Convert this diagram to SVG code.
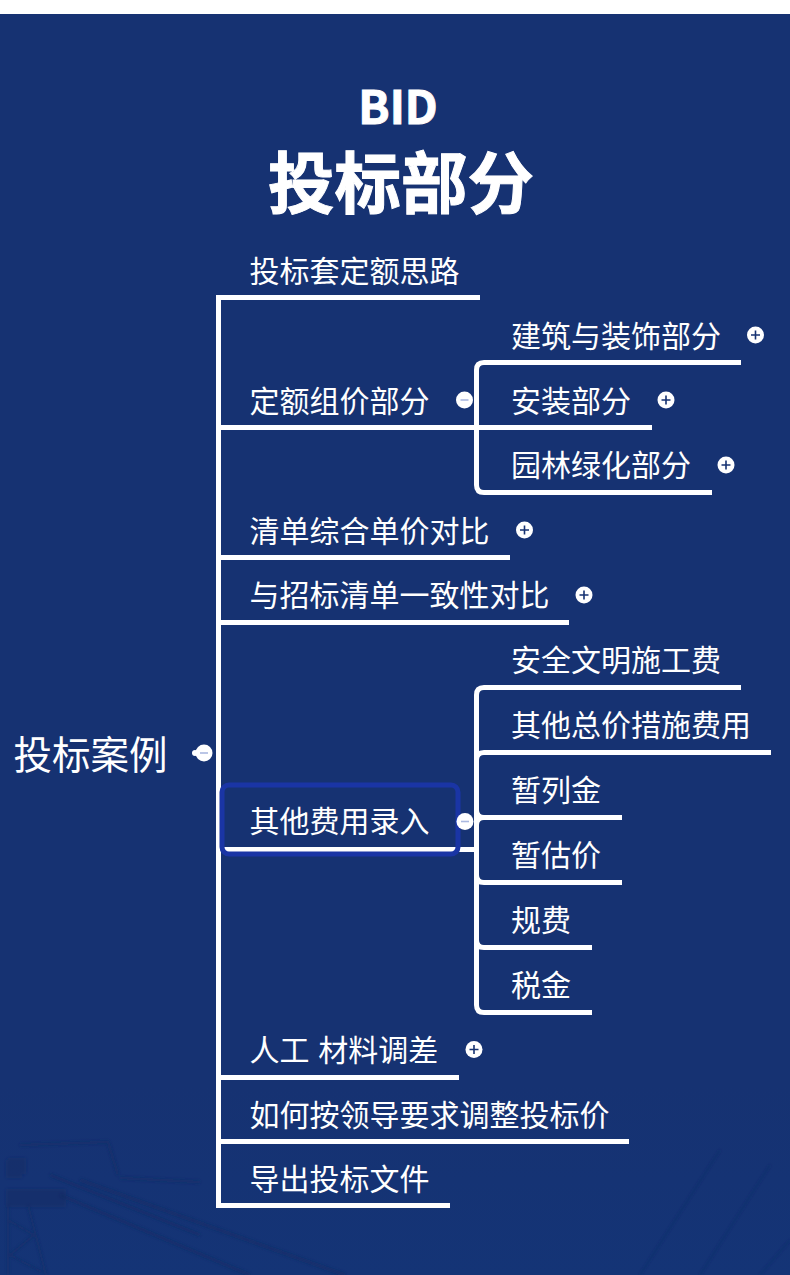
<svg xmlns="http://www.w3.org/2000/svg" width="790" height="1275" viewBox="0 0 790 1275">
<style>
text{font-family:"Noto Sans CJK SC","Noto Sans",sans-serif;fill:#fff}
.l{font-size:30px}
.t{font-weight:700;stroke:#fff;stroke-width:1;text-anchor:middle}
.c{fill:none;stroke:#fff;stroke-width:5;stroke-linejoin:miter}
.d{fill:#fff}
.s{stroke:#163272;stroke-width:1.6;fill:none}
.m{stroke:#aab8e0;stroke-width:1.6;fill:none}
.b{fill:none;stroke:#0f2a62;stroke-opacity:.5}
</style>
<defs>
<g id="plus"><circle r="8.500" class="d"/><path class="s" d="M-4.500 0H4.500M0-4.500V4.500"/></g>
<g id="minus"><circle r="8.500" class="d"/><path class="m" d="M-4 0H4"/></g>
<filter id="blur" x="-10%" y="-10%" width="120%" height="120%"><feGaussianBlur stdDeviation="1.500"/></filter>
<linearGradient id="bg" x1="0" y1="0" x2="0" y2="1"><stop offset="0" stop-color="#163272"/><stop offset=".85" stop-color="#163272"/><stop offset="1" stop-color="#143476"/></linearGradient>
</defs>
<rect width="790" height="1275" fill="#fff"/>
<rect y="14" width="790" height="1261" fill="url(#bg)"/>
<g id="background" filter="url(#blur)">
<path class="b" stroke-width="16" d="M8 1166H26M14 1160V1178" stroke-opacity=".55"/>
<path class="b" stroke-width="18" d="M6 1198H66" stroke-opacity=".4"/>
<path class="b" stroke-width="2.500" d="M8 1205V1275M28 1205L46 1275M8 1220L34 1235M34 1235L10 1255M10 1255L42 1272"/>
<path class="b" stroke-width="4" d="M50 1175L200 1235M80 1180L345 1275M60 1195L250 1275"/>
<path class="b" stroke-width="3" stroke-opacity=".3" d="M20 1145L108 1142L118 1175M120 1178L200 1182"/>
<path class="b" stroke-width="1.500" stroke-opacity=".2" d="M640 1275L720 1150M700 1275L770 1165M760 1275L790 1240"/>
</g>
<g id="title">
<text class="t" x="398" y="124" font-size="46">BID</text>
<text class="t" x="401" y="208" font-size="66.500">投标部分</text>
</g>
<g id="connectors">
<path class="c" d="M218.500 1207V297.500H480"/>
<path class="c" d="M218.500 427.500H652"/>
<path class="c" d="M218.500 557.500H510"/>
<path class="c" d="M218.500 622.500H569"/>
<path class="c" d="M218.500 849.500H476"/>
<path class="c" d="M218.500 1077.500H459"/>
<path class="c" d="M218.500 1141.500H629"/>
<path class="c" d="M216 1205.500H450"/>
<path class="c" d="M741 362.500H484Q476.500 362.500 476.500 370V485Q476.500 492.500 484 492.500H712"/>
<path class="c" d="M741 687.500H484Q476.500 687.500 476.500 695V1005Q476.500 1012.500 484 1012.500H592"/>
<path class="c" d="M771 752.500H484Q476.500 752.500 476.500 760"/>
<path class="c" d="M622 817.500H484Q476.500 817.500 476.500 810"/>
<path class="c" d="M484 817.500Q476.500 817.500 476.500 825"/>
<path class="c" d="M622 882.500H484Q476.500 882.500 476.500 875"/>
<path class="c" d="M592 947.500H484Q476.500 947.500 476.500 940"/>
</g>
<g id="root"><text x="13.500" y="769" font-size="38.500">投标案例</text><circle cx="195" cy="753" r="3" class="d"/><use href="#minus" x="204" y="753"/></g>
<g id="n1"><text class="l" x="249.500" y="282">投标套定额思路</text></g>
<g id="n2"><text class="l" x="249.500" y="412">定额组价部分</text><use href="#minus" x="464.500" y="400"/></g>
<g id="n2a"><text class="l" x="511" y="347">建筑与装饰部分</text><use href="#plus" x="755.500" y="335"/></g>
<g id="n2b"><text class="l" x="511" y="412">安装部分</text><use href="#plus" x="666" y="400"/></g>
<g id="n2c"><text class="l" x="511" y="476">园林绿化部分</text><use href="#plus" x="726" y="465"/></g>
<g id="n3"><text class="l" x="249.500" y="542">清单综合单价对比</text><use href="#plus" x="524.500" y="530"/></g>
<g id="n4"><text class="l" x="249.500" y="606">与招标清单一致性对比</text><use href="#plus" x="584" y="595"/></g>
<g id="n5"><text class="l" x="249.500" y="832">其他费用录入</text><rect x="222" y="785" width="236" height="69" rx="7" fill="none" stroke="#1a35a5" stroke-width="5"/><circle cx="460" cy="821.500" r="4" fill="#1a46c8"/><use href="#minus" x="465" y="821.500"/></g>
<g id="n5a"><text class="l" x="511" y="671">安全文明施工费</text></g>
<g id="n5b"><text class="l" x="511" y="736">其他总价措施费用</text></g>
<g id="n5c"><text class="l" x="511" y="801">暂列金</text></g>
<g id="n5d"><text class="l" x="511" y="866">暂估价</text></g>
<g id="n5e"><text class="l" x="511" y="931">规费</text></g>
<g id="n5f"><text class="l" x="511" y="996">税金</text></g>
<g id="n6"><text class="l" x="249.500" y="1061" word-spacing="2">人工 材料调差</text><use href="#plus" x="474" y="1049.500"/></g>
<g id="n7"><text class="l" x="249.500" y="1126">如何按领导要求调整投标价</text></g>
<g id="n8"><text class="l" x="249.500" y="1190">导出投标文件</text></g>
</svg>
